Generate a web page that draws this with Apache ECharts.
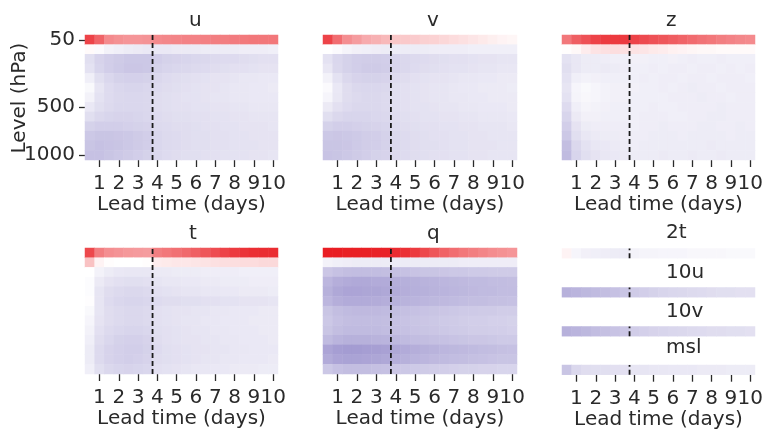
<!DOCTYPE html>
<html>
<head>
<meta charset="utf-8">
<script src="https://cdn.jsdelivr.net/npm/echarts@6/dist/echarts.min.js"></script>
<style>
  html, body { margin: 0; padding: 0; background: #ffffff; }
  #chart { width: 764px; height: 431px; }
</style>
</head>
<body>
<div id="chart"></div>
<script>
// Lead times (days), one column every 12 h
const leadDays = [0.5, 1, 1.5, 2, 2.5, 3, 3.5, 4, 4.5, 5, 5.5, 6, 6.5, 7, 7.5, 8, 8.5, 9, 9.5, 10];
// Pressure levels (hPa), top of atmosphere first
const levels = [50, 100, 150, 200, 250, 300, 400, 500, 600, 700, 850, 925, 1000];
const levelTicks = [50, 500, 1000];
const dayTicks = [1, 2, 3, 4, 5, 6, 7, 8, 9, 10];
// Boundary between the two lead-time regimes (days)
const cutoffDays = 3.75;

// Normalised score difference per level (rows) and lead time (columns)
const uScore = [
  [0.80, 0.66, 0.50, 0.47, 0.45, 0.45, 0.46, 0.50, 0.51, 0.52, 0.53, 0.53, 0.54, 0.55, 0.55, 0.56, 0.57, 0.58, 0.58, 0.58],
  [0.02, -0.03, -0.08, -0.10, -0.12, -0.13, -0.14, -0.14, -0.14, -0.13, -0.13, -0.13, -0.12, -0.12, -0.12, -0.12, -0.11, -0.11, -0.11, -0.10],
  [-0.20, -0.27, -0.30, -0.32, -0.34, -0.34, -0.34, -0.30, -0.28, -0.27, -0.26, -0.25, -0.24, -0.23, -0.22, -0.22, -0.21, -0.20, -0.19, -0.19],
  [-0.18, -0.26, -0.30, -0.33, -0.35, -0.35, -0.34, -0.28, -0.26, -0.25, -0.24, -0.23, -0.22, -0.21, -0.20, -0.19, -0.19, -0.18, -0.17, -0.17],
  [-0.10, -0.20, -0.25, -0.28, -0.29, -0.29, -0.28, -0.24, -0.22, -0.21, -0.20, -0.19, -0.18, -0.17, -0.17, -0.16, -0.15, -0.15, -0.14, -0.14],
  [-0.04, -0.16, -0.22, -0.25, -0.26, -0.26, -0.25, -0.22, -0.21, -0.20, -0.19, -0.18, -0.17, -0.17, -0.16, -0.15, -0.15, -0.14, -0.14, -0.13],
  [-0.08, -0.18, -0.22, -0.24, -0.25, -0.25, -0.24, -0.21, -0.20, -0.19, -0.18, -0.18, -0.17, -0.16, -0.16, -0.15, -0.15, -0.14, -0.14, -0.14],
  [-0.14, -0.20, -0.23, -0.25, -0.25, -0.25, -0.24, -0.21, -0.20, -0.19, -0.19, -0.18, -0.18, -0.17, -0.17, -0.16, -0.16, -0.15, -0.15, -0.15],
  [-0.20, -0.24, -0.26, -0.27, -0.27, -0.26, -0.25, -0.22, -0.21, -0.20, -0.20, -0.19, -0.19, -0.18, -0.18, -0.17, -0.17, -0.16, -0.16, -0.16],
  [-0.28, -0.30, -0.30, -0.30, -0.29, -0.28, -0.27, -0.23, -0.22, -0.21, -0.21, -0.20, -0.19, -0.19, -0.18, -0.18, -0.17, -0.17, -0.17, -0.16],
  [-0.34, -0.36, -0.36, -0.35, -0.34, -0.32, -0.30, -0.25, -0.23, -0.22, -0.21, -0.20, -0.20, -0.19, -0.19, -0.18, -0.18, -0.17, -0.17, -0.17],
  [-0.36, -0.38, -0.37, -0.36, -0.34, -0.32, -0.30, -0.25, -0.23, -0.22, -0.21, -0.20, -0.20, -0.19, -0.19, -0.18, -0.18, -0.18, -0.17, -0.17],
  [-0.38, -0.38, -0.36, -0.34, -0.32, -0.30, -0.28, -0.24, -0.22, -0.21, -0.20, -0.20, -0.19, -0.19, -0.18, -0.18, -0.18, -0.17, -0.17, -0.16]
];
const vScore = [
  [0.80, 0.62, 0.48, 0.42, 0.36, 0.33, 0.30, 0.24, 0.23, 0.22, 0.20, 0.19, 0.17, 0.15, 0.13, 0.11, 0.09, 0.07, 0.05, 0.04],
  [0.00, -0.03, -0.07, -0.09, -0.10, -0.11, -0.12, -0.12, -0.12, -0.12, -0.12, -0.11, -0.11, -0.11, -0.11, -0.10, -0.10, -0.10, -0.10, -0.10],
  [-0.18, -0.25, -0.28, -0.30, -0.31, -0.31, -0.30, -0.26, -0.24, -0.23, -0.22, -0.21, -0.20, -0.19, -0.19, -0.18, -0.17, -0.17, -0.16, -0.16],
  [-0.15, -0.24, -0.28, -0.30, -0.32, -0.32, -0.31, -0.26, -0.24, -0.22, -0.21, -0.20, -0.19, -0.18, -0.18, -0.17, -0.16, -0.16, -0.15, -0.15],
  [-0.08, -0.18, -0.24, -0.27, -0.28, -0.28, -0.27, -0.22, -0.21, -0.19, -0.18, -0.17, -0.17, -0.16, -0.15, -0.15, -0.14, -0.14, -0.13, -0.13],
  [-0.03, -0.14, -0.21, -0.24, -0.25, -0.25, -0.24, -0.20, -0.19, -0.18, -0.17, -0.16, -0.16, -0.15, -0.14, -0.14, -0.13, -0.13, -0.13, -0.12],
  [-0.06, -0.15, -0.21, -0.23, -0.24, -0.24, -0.23, -0.20, -0.19, -0.18, -0.17, -0.16, -0.16, -0.15, -0.15, -0.14, -0.14, -0.13, -0.13, -0.13],
  [-0.13, -0.19, -0.22, -0.24, -0.24, -0.24, -0.23, -0.20, -0.19, -0.18, -0.18, -0.17, -0.16, -0.16, -0.15, -0.15, -0.14, -0.14, -0.14, -0.13],
  [-0.20, -0.24, -0.26, -0.26, -0.26, -0.25, -0.24, -0.21, -0.20, -0.19, -0.18, -0.18, -0.17, -0.17, -0.16, -0.16, -0.15, -0.15, -0.15, -0.14],
  [-0.28, -0.30, -0.30, -0.29, -0.28, -0.27, -0.26, -0.22, -0.21, -0.20, -0.19, -0.19, -0.18, -0.18, -0.17, -0.17, -0.16, -0.16, -0.16, -0.15],
  [-0.34, -0.35, -0.34, -0.33, -0.31, -0.30, -0.28, -0.24, -0.22, -0.21, -0.20, -0.19, -0.19, -0.18, -0.18, -0.17, -0.17, -0.16, -0.16, -0.16],
  [-0.36, -0.36, -0.35, -0.33, -0.31, -0.30, -0.28, -0.24, -0.22, -0.21, -0.20, -0.20, -0.19, -0.18, -0.18, -0.17, -0.17, -0.17, -0.16, -0.16],
  [-0.37, -0.36, -0.34, -0.32, -0.30, -0.28, -0.27, -0.23, -0.22, -0.21, -0.20, -0.19, -0.19, -0.18, -0.18, -0.17, -0.17, -0.16, -0.16, -0.16]
];
const zScore = [
  [0.58, 0.68, 0.74, 0.80, 0.83, 0.84, 0.84, 0.80, 0.77, 0.74, 0.72, 0.69, 0.66, 0.63, 0.60, 0.58, 0.55, 0.53, 0.51, 0.50],
  [0.01, 0.03, 0.08, 0.12, 0.13, 0.14, 0.13, 0.12, 0.11, 0.09, 0.08, 0.06, 0.05, 0.04, 0.03, 0.03, 0.02, 0.02, 0.02, 0.02],
  [-0.18, -0.15, -0.12, -0.12, -0.11, -0.10, -0.10, -0.09, -0.09, -0.10, -0.10, -0.09, -0.10, -0.11, -0.10, -0.10, -0.11, -0.10, -0.10, -0.10],
  [-0.20, -0.15, -0.12, -0.12, -0.13, -0.12, -0.11, -0.10, -0.10, -0.11, -0.10, -0.11, -0.11, -0.10, -0.11, -0.11, -0.10, -0.11, -0.10, -0.11],
  [-0.18, -0.10, -0.08, -0.09, -0.10, -0.10, -0.10, -0.10, -0.11, -0.10, -0.11, -0.11, -0.10, -0.11, -0.11, -0.10, -0.11, -0.11, -0.11, -0.10],
  [-0.16, -0.06, -0.04, -0.06, -0.08, -0.09, -0.09, -0.09, -0.10, -0.10, -0.11, -0.10, -0.11, -0.12, -0.11, -0.11, -0.10, -0.11, -0.11, -0.11],
  [-0.18, -0.07, -0.05, -0.06, -0.08, -0.09, -0.09, -0.10, -0.10, -0.10, -0.10, -0.11, -0.11, -0.11, -0.12, -0.11, -0.11, -0.10, -0.11, -0.11],
  [-0.22, -0.10, -0.07, -0.08, -0.09, -0.10, -0.10, -0.10, -0.10, -0.11, -0.10, -0.10, -0.11, -0.11, -0.11, -0.11, -0.12, -0.11, -0.11, -0.11],
  [-0.26, -0.13, -0.09, -0.09, -0.10, -0.10, -0.10, -0.10, -0.11, -0.11, -0.11, -0.10, -0.10, -0.11, -0.11, -0.12, -0.12, -0.11, -0.11, -0.11],
  [-0.30, -0.17, -0.12, -0.11, -0.11, -0.11, -0.11, -0.10, -0.11, -0.11, -0.12, -0.11, -0.11, -0.11, -0.12, -0.12, -0.11, -0.11, -0.12, -0.11],
  [-0.34, -0.20, -0.15, -0.13, -0.12, -0.12, -0.11, -0.11, -0.11, -0.12, -0.12, -0.12, -0.11, -0.12, -0.12, -0.12, -0.12, -0.11, -0.12, -0.12],
  [-0.40, -0.24, -0.18, -0.15, -0.14, -0.13, -0.12, -0.11, -0.12, -0.12, -0.12, -0.12, -0.12, -0.12, -0.12, -0.13, -0.12, -0.12, -0.12, -0.12],
  [-0.42, -0.26, -0.20, -0.17, -0.15, -0.14, -0.13, -0.12, -0.12, -0.12, -0.13, -0.12, -0.12, -0.13, -0.12, -0.12, -0.13, -0.12, -0.12, -0.12]
];
const tScore = [
  [0.78, 0.55, 0.48, 0.46, 0.44, 0.43, 0.42, 0.55, 0.58, 0.61, 0.64, 0.68, 0.72, 0.76, 0.80, 0.84, 0.87, 0.89, 0.90, 0.90],
  [0.26, 0.05, 0.01, 0.00, 0.00, 0.00, 0.01, 0.08, 0.09, 0.10, 0.10, 0.11, 0.12, 0.13, 0.14, 0.14, 0.15, 0.15, 0.16, 0.16],
  [0.00, -0.08, -0.12, -0.14, -0.15, -0.15, -0.15, -0.13, -0.13, -0.12, -0.12, -0.12, -0.11, -0.11, -0.11, -0.11, -0.10, -0.10, -0.10, -0.10],
  [-0.02, -0.13, -0.17, -0.19, -0.20, -0.20, -0.19, -0.16, -0.15, -0.15, -0.14, -0.14, -0.13, -0.13, -0.12, -0.12, -0.12, -0.11, -0.11, -0.11],
  [-0.02, -0.16, -0.21, -0.23, -0.24, -0.24, -0.23, -0.19, -0.18, -0.17, -0.16, -0.16, -0.15, -0.15, -0.14, -0.14, -0.13, -0.13, -0.13, -0.12],
  [-0.01, -0.16, -0.22, -0.25, -0.26, -0.26, -0.25, -0.22, -0.21, -0.21, -0.20, -0.20, -0.19, -0.19, -0.18, -0.18, -0.17, -0.17, -0.17, -0.16],
  [-0.04, -0.16, -0.21, -0.23, -0.24, -0.24, -0.23, -0.19, -0.18, -0.17, -0.17, -0.16, -0.16, -0.15, -0.15, -0.14, -0.14, -0.14, -0.13, -0.13],
  [-0.06, -0.17, -0.21, -0.23, -0.24, -0.24, -0.23, -0.19, -0.18, -0.17, -0.16, -0.16, -0.15, -0.15, -0.14, -0.14, -0.14, -0.13, -0.13, -0.13],
  [-0.08, -0.19, -0.23, -0.25, -0.26, -0.26, -0.25, -0.20, -0.19, -0.18, -0.17, -0.16, -0.16, -0.15, -0.15, -0.14, -0.14, -0.14, -0.13, -0.13],
  [-0.10, -0.21, -0.25, -0.28, -0.29, -0.29, -0.27, -0.21, -0.19, -0.18, -0.17, -0.17, -0.16, -0.16, -0.15, -0.15, -0.14, -0.14, -0.14, -0.13],
  [-0.12, -0.23, -0.27, -0.29, -0.30, -0.30, -0.28, -0.22, -0.20, -0.19, -0.18, -0.17, -0.17, -0.16, -0.16, -0.15, -0.15, -0.14, -0.14, -0.14],
  [-0.12, -0.23, -0.27, -0.29, -0.30, -0.29, -0.27, -0.21, -0.20, -0.19, -0.18, -0.17, -0.16, -0.16, -0.15, -0.15, -0.14, -0.14, -0.14, -0.13],
  [-0.10, -0.20, -0.24, -0.26, -0.27, -0.26, -0.25, -0.19, -0.18, -0.17, -0.16, -0.15, -0.15, -0.14, -0.14, -0.13, -0.13, -0.13, -0.12, -0.12]
];
const qScore = [
  [0.96, 0.96, 0.95, 0.95, 0.95, 0.94, 0.94, 0.90, 0.88, 0.84, 0.78, 0.72, 0.67, 0.62, 0.58, 0.55, 0.52, 0.49, 0.47, 0.45],
  [-0.08, -0.10, -0.11, -0.12, -0.12, -0.12, -0.12, -0.12, -0.12, -0.12, -0.12, -0.12, -0.12, -0.12, -0.11, -0.11, -0.11, -0.11, -0.11, -0.11],
  [-0.35, -0.38, -0.40, -0.41, -0.41, -0.41, -0.40, -0.39, -0.38, -0.37, -0.36, -0.36, -0.35, -0.34, -0.34, -0.33, -0.33, -0.32, -0.32, -0.32],
  [-0.45, -0.50, -0.52, -0.53, -0.53, -0.52, -0.52, -0.50, -0.49, -0.48, -0.47, -0.46, -0.45, -0.44, -0.43, -0.42, -0.42, -0.41, -0.41, -0.40],
  [-0.48, -0.54, -0.56, -0.56, -0.55, -0.55, -0.54, -0.52, -0.50, -0.49, -0.48, -0.47, -0.46, -0.45, -0.44, -0.43, -0.42, -0.42, -0.41, -0.41],
  [-0.45, -0.50, -0.52, -0.52, -0.52, -0.51, -0.50, -0.48, -0.47, -0.46, -0.45, -0.44, -0.43, -0.42, -0.41, -0.40, -0.40, -0.39, -0.39, -0.38],
  [-0.36, -0.40, -0.42, -0.43, -0.43, -0.43, -0.42, -0.40, -0.39, -0.38, -0.37, -0.36, -0.35, -0.34, -0.33, -0.33, -0.32, -0.32, -0.31, -0.31],
  [-0.34, -0.38, -0.40, -0.41, -0.41, -0.41, -0.40, -0.38, -0.37, -0.36, -0.35, -0.34, -0.33, -0.32, -0.31, -0.30, -0.30, -0.29, -0.29, -0.28],
  [-0.36, -0.40, -0.42, -0.42, -0.42, -0.42, -0.41, -0.39, -0.38, -0.37, -0.36, -0.35, -0.34, -0.33, -0.32, -0.31, -0.31, -0.30, -0.30, -0.29],
  [-0.42, -0.46, -0.48, -0.48, -0.48, -0.47, -0.46, -0.44, -0.42, -0.41, -0.40, -0.39, -0.38, -0.37, -0.36, -0.35, -0.35, -0.34, -0.33, -0.33],
  [-0.56, -0.60, -0.61, -0.61, -0.60, -0.59, -0.58, -0.54, -0.52, -0.50, -0.48, -0.47, -0.45, -0.44, -0.43, -0.42, -0.41, -0.40, -0.39, -0.38],
  [-0.52, -0.56, -0.57, -0.57, -0.56, -0.55, -0.54, -0.50, -0.48, -0.46, -0.45, -0.43, -0.42, -0.41, -0.40, -0.39, -0.38, -0.37, -0.36, -0.36],
  [-0.34, -0.38, -0.40, -0.40, -0.40, -0.39, -0.38, -0.35, -0.34, -0.33, -0.32, -0.31, -0.30, -0.29, -0.28, -0.28, -0.27, -0.27, -0.26, -0.26]
];
// Single-level surface variables
const t2mScore = [0.05, -0.06, -0.09, -0.10, -0.11, -0.12, -0.12, -0.08, -0.07, -0.07, -0.06, -0.06, -0.06, -0.05, -0.05, -0.05, -0.05, -0.04, -0.04, -0.04];
const u10Score = [-0.48, -0.46, -0.44, -0.42, -0.40, -0.38, -0.36, -0.32, -0.30, -0.28, -0.26, -0.25, -0.24, -0.23, -0.22, -0.21, -0.20, -0.20, -0.19, -0.19];
const v10Score = [-0.48, -0.46, -0.44, -0.41, -0.39, -0.37, -0.35, -0.31, -0.29, -0.27, -0.26, -0.25, -0.24, -0.23, -0.22, -0.21, -0.21, -0.20, -0.20, -0.19];
const mslScore = [-0.36, -0.24, -0.21, -0.20, -0.20, -0.19, -0.19, -0.16, -0.16, -0.15, -0.15, -0.14, -0.14, -0.14, -0.13, -0.13, -0.13, -0.12, -0.12, -0.12];

// ---- layout ----
const FONT = 'DejaVu Sans';
const INK = '#2a2a2a';
const TICK_FS = 20;
const NAME_FS = 20;
const TITLE_FS = 20;

const upperPanels = [
  { title: 'u', rows: uScore, box: [85, 35, 193, 125], yLabels: true, xLabels: true },
  { title: 'v', rows: vScore, box: [323, 35, 194, 125], yLabels: false, xLabels: true },
  { title: 'z', rows: zScore, box: [562, 35, 193, 125], yLabels: false, xLabels: true },
  { title: 't', rows: tScore, box: [85, 248, 193, 126], yLabels: false, xLabels: true },
  { title: 'q', rows: qScore, box: [323, 248, 194, 126], yLabels: false, xLabels: true }
];
const surfacePanels = [
  { title: '2t', row: t2mScore, box: [562, 248.5, 193, 9.7], titleY: 232.5, xLabels: false },
  { title: '10u', row: u10Score, box: [562, 287.5, 193, 9.7], titleY: 272.5, xLabels: false },
  { title: '10v', row: v10Score, box: [562, 326.5, 193, 9.7], titleY: 311, xLabels: false },
  { title: 'msl', row: mslScore, box: [562, 365, 193, 9.7], titleY: 347.5, xLabels: true }
];

const option = {
  animation: false,
  backgroundColor: '#ffffff',
  grid: [], xAxis: [], yAxis: [], series: [], graphic: [],
  visualMap: {
    type: 'continuous', show: false, min: -1, max: 1, dimension: 2,
    seriesIndex: [],
    inRange: { color: ['#6a5db5', '#ffffff', '#e8141a'] }
  }
};

const dayCategories = leadDays.map(String);
const isDayTick = (i) => dayTicks.includes(leadDays[i]);
const halfStep = (leadDays[1] - leadDays[0]) / 2;

function addPanel(box, yCategories, cells, opts) {
  const g = option.grid.length;
  option.grid.push({ left: box[0], top: box[1], width: box[2], height: box[3], containLabel: false, outerBoundsMode: 'none' });

  const xi = option.xAxis.length;
  option.xAxis.push({
    type: 'category', gridIndex: g, data: dayCategories,
    axisLine: { show: false },
    axisTick: { show: opts.xLabels, alignWithLabel: true, interval: isDayTick, length: 7, lineStyle: { color: INK, width: 1.3 } },
    axisLabel: { show: opts.xLabels, interval: isDayTick, color: INK, fontSize: TICK_FS, fontFamily: FONT, margin: 14 },
    splitLine: { show: false },
    name: opts.xLabels ? 'Lead time (days)' : '',
    nameLocation: 'middle', nameGap: 35, nameMoveOverlap: false,
    nameTextStyle: { color: INK, fontSize: NAME_FS, fontFamily: FONT }
  });
  const yi = option.yAxis.length;
  option.yAxis.push({
    type: 'category', gridIndex: g, data: yCategories, inverse: true,
    axisLine: { show: false },
    axisTick: { show: !!opts.yLabels, alignWithLabel: true, interval: (i, v) => levelTicks.includes(+v), length: 6, lineStyle: { color: INK, width: 1.3 } },
    axisLabel: { show: !!opts.yLabels, interval: (i, v) => levelTicks.includes(+v), color: INK, fontSize: TICK_FS, fontFamily: FONT, margin: 10 },
    splitLine: { show: false }
  });

  option.visualMap.seriesIndex.push(option.series.length);
  option.series.push({
    type: 'heatmap', xAxisIndex: xi, yAxisIndex: yi, data: cells,
    itemStyle: { borderWidth: 0 }, silent: true, emphasis: { disabled: true }
  });

  // dashed marker at the regime boundary, on a hidden lead-time scale
  const vx = option.xAxis.length;
  option.xAxis.push({ type: 'value', gridIndex: g, show: false, min: leadDays[0] - halfStep, max: leadDays[leadDays.length - 1] + halfStep });
  const vy = option.yAxis.length;
  option.yAxis.push({ type: 'value', gridIndex: g, show: false, min: 0, max: 1 });
  option.series.push({
    type: 'line', xAxisIndex: vx, yAxisIndex: vy, symbol: 'none', silent: true, z: 5,
    data: [[cutoffDays, 0], [cutoffDays, 1]],
    lineStyle: { color: '#1a1a1a', width: 1.8, type: [5, 3] }
  });
}

function addText(text, x, y, align, rotation) {
  option.graphic.push({
    type: 'text', x: x, y: y, rotation: rotation || 0, silent: true,
    style: { text: text, fill: INK, font: TITLE_FS + 'px "' + FONT + '"', align: align, verticalAlign: 'middle' }
  });
}

const titleOffset = 104;
upperPanels.forEach((p) => {
  const cells = [];
  p.rows.forEach((row, r) => row.forEach((v, c) => cells.push([c, r, v])));
  addPanel(p.box, levels.map(String), cells, p);
  addText(p.title, p.box[0] + titleOffset, p.box[1] - 14.5, 'left');
});
surfacePanels.forEach((p) => {
  const cells = p.row.map((v, c) => [c, 0, v]);
  addPanel(p.box, [p.title], cells, p);
  addText(p.title, p.box[0] + titleOffset, p.titleY + 0.5, 'left');
});
// vertical axis title for the pressure-level panels
addText('Level (hPa)', 20, 98, 'center', Math.PI / 2);

const chart = echarts.init(document.getElementById('chart'), null, { renderer: 'canvas' });
chart.setOption(option);
</script>
</body>
</html>
